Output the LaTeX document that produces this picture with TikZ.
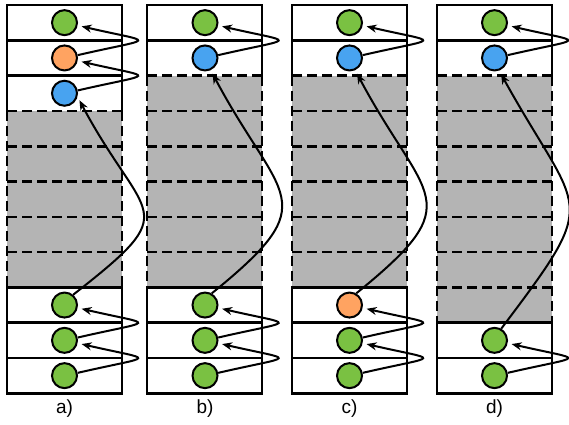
\documentclass[tikz,border=0pt]{standalone}
\usepackage{fontspec}
\setmainfont{Liberation Sans}
\usepackage{tikz}
\usetikzlibrary{arrows.meta}
\usepackage{xcolor}
\definecolor{cellgreen}{RGB}{122,193,66}
\definecolor{cellorange}{RGB}{255,163,97}
\definecolor{cellblue}{RGB}{72,163,240}
\definecolor{freegray}{RGB}{180,180,180}

\begin{document}
\begin{tikzpicture}[x=1pt,y=1pt,>={Stealth[length=10pt,width=8pt]},font=\fontsize{19}{22}\selectfont,
  slot/.style={circle,draw,line width=2pt,minimum size=25pt,inner sep=0pt},
  usedbox/.style={line width=2.6pt},
  freebox/.style={line width=2.6pt,dash pattern=on 10pt off 5pt},
  link/.style={->,line width=2pt,shorten >=4pt}]
\useasboundingbox (0,0) rectangle (569,-424);
% columns: left edge / top white rows / bottom white rows
\foreach \x/\nt/\nb in {7/3/3,147/2/3,292/2/3,437/2/2}{
  \pgfmathtruncatemacro{\gb}{11-\nb}
  \pgfmathtruncatemacro{\gl}{\gb-1}
  \pgfmathtruncatemacro{\tl}{\nt-1}
  \pgfmathtruncatemacro{\bl}{\gb+1}
  \fill[freegray] (\x,-5-35.3*\nt) rectangle (\x+115,-5-35.3*\gb);
  \draw[freebox] (\x,-5-35.3*\nt) -- (\x,-5-35.3*\gb) (\x+115,-5-35.3*\nt) -- (\x+115,-5-35.3*\gb);
  \foreach \k in {\nt,...,\gl} \draw[freebox] (\x,-5-35.3*\k) -- (\x+115,-5-35.3*\k);
  \draw[usedbox] (\x,-5-35.3*\nt) -- (\x,-5) -- (\x+115,-5) -- (\x+115,-5-35.3*\nt);
  \foreach \k in {1,...,\tl} \draw[usedbox] (\x,-5-35.3*\k) -- (\x+115,-5-35.3*\k);
  \draw[usedbox] (\x,-5-35.3*\gb) rectangle (\x+115,-393.3);
  \foreach \k in {\bl,...,10} \draw[usedbox] (\x,-5-35.3*\k) -- (\x+115,-5-35.3*\k);
}
% a)
\node[slot,fill=cellgreen]  (a1)  at (64.5,-22.65) {};
\node[slot,fill=cellorange] (a2)  at (64.5,-57.95) {};
\node[slot,fill=cellblue]   (a3)  at (64.5,-93.25) {};
\node[slot,fill=cellgreen]  (a9)  at (64.5,-305.05) {};
\node[slot,fill=cellgreen]  (a10) at (64.5,-340.35) {};
\node[slot,fill=cellgreen]  (a11) at (64.5,-375.65) {};
% b)
\node[slot,fill=cellgreen]  (b1)  at (205,-22.65) {};
\node[slot,fill=cellblue]   (b2)  at (205,-57.95) {};
\node[slot,fill=cellgreen]  (b9)  at (205,-305.05) {};
\node[slot,fill=cellgreen]  (b10) at (205,-340.35) {};
\node[slot,fill=cellgreen]  (b11) at (205,-375.65) {};
% c)
\node[slot,fill=cellgreen]  (c1)  at (349.5,-22.65) {};
\node[slot,fill=cellblue]   (c2)  at (349.5,-57.95) {};
\node[slot,fill=cellorange] (c9)  at (349.5,-305.05) {};
\node[slot,fill=cellgreen]  (c10) at (349.5,-340.35) {};
\node[slot,fill=cellgreen]  (c11) at (349.5,-375.65) {};
% d)
\node[slot,fill=cellgreen]  (d1)  at (494.5,-22.65) {};
\node[slot,fill=cellblue]   (d2)  at (494.5,-57.95) {};
\node[slot,fill=cellgreen]  (d10) at (494.5,-340.35) {};
\node[slot,fill=cellgreen]  (d11) at (494.5,-375.65) {};
% short links
\foreach \lo/\up in {a2/a1,a3/a2,a10/a9,a11/a10,b2/b1,b10/b9,b11/b10,c2/c1,c10/c9,c11/c10,d2/d1,d11/d10}
  \draw[link] (\lo.12) to[out=13,in=-13,looseness=7] (\up.-12);
% long links
\draw[link] (a9.50) to[out=38,in=-62,looseness=1.85] (a3.-15);
\draw[link] (b9.60) to[out=39,in=-62,looseness=1.7] (b2.-65);
\draw[link] (c9.60) to[out=39,in=-62,looseness=1.7] (c2.-65);
\draw[link] (d10.60) to[out=53,in=-61,looseness=1.67] (d2.-70);
% labels
\node (la) at (64.5,-409) {a)};
\node (lb) at (205,-409) {b)};
\node (lc) at (349.5,-409) {c)};
\node (ld) at (494.5,-409) {d)};
\end{tikzpicture}
\end{document}
